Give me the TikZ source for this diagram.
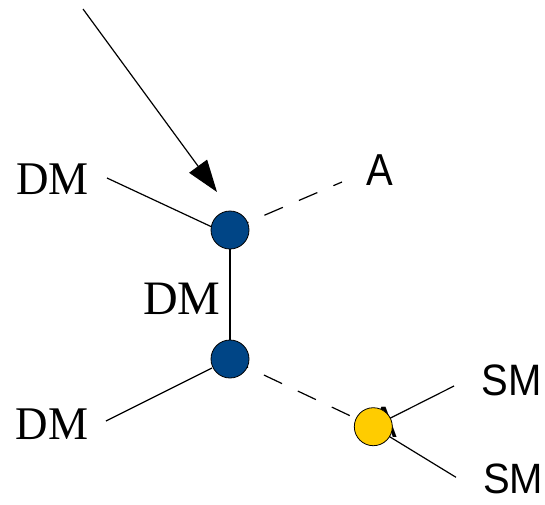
\documentclass[tikz,border=0pt]{standalone}
\usepackage{fontspec}
\setmainfont{Liberation Serif}
\newfontfamily\sansfnt{Liberation Sans}
\usetikzlibrary{arrows.meta}
\definecolor{nodeblue}{HTML}{004586}
\definecolor{nodeyellow}{HTML}{FFCC00}
\tikzset{
  conn/.style={line width=1.2pt, black},
  dconn/.style={conn, dash pattern=on 20pt off 17.5pt},
  atom/.style={circle, draw=black, line width=0.8pt, minimum size=38pt, inner sep=0pt},
  dmlabel/.style={inner sep=0pt, font=\fontsize{45}{50}\selectfont},
  smlabel/.style={inner sep=0pt, font=\sansfnt\fontsize{40}{44}\selectfont},
}
\begin{document}
\begin{tikzpicture}[x=1pt,y=-1pt]
\useasboundingbox (0,0) rectangle (545,504);
% labels
\node[dmlabel] (dm1) at (52.5,179.5) {\scalebox{1}[1.04]{DM}};
\node[dmlabel, font=\fontsize{48}{52}\selectfont] (dm2) at (181.7,299) {DM};
\node[dmlabel] (dm3) at (52.2,423.8) {\scalebox{1}[1.04]{DM}};
\node[smlabel] (a1) at (380,170.3) {\scalebox{1}[1.12]{A}};
\node[smlabel] (sm1) at (511.7,380.5) {\scalebox{1}[1.1]{SM}};
\node[smlabel] (sm2) at (513.3,479) {\scalebox{1}[1.06]{SM}};
\node[smlabel] (a2) at (384,422) {\scalebox{1}[1.1]{A}};
% coordinates
\coordinate (c1) at (230,230);
\coordinate (c2) at (230,359);
\coordinate (c3) at (373.3,426.7);
\coordinate (arrs) at (83,9);
\coordinate (arrt) at (217,192);
\coordinate (l1s) at (107,178);
\coordinate (l1e) at (212,227);
\coordinate (l3s) at (106,421);
\coordinate (l3e) at (212,368);
\coordinate (d1e) at (342,182);
\coordinate (s1e) at (454,386);
\coordinate (s2e) at (456,477.3);
% connectors
\draw[conn, -{Triangle[length=32pt,width=22pt]}] (arrs) -- (arrt);
\draw[conn] (l1s) -- (l1e);
\draw[conn] (l3s) -- (l3e);
\draw[conn] (c1) -- (c2);
\draw[dconn] (c1) -- (d1e);
\draw[dconn] (c2) -- (c3);
\draw[conn] (c3) -- (s1e);
\draw[conn] (c3) -- (s2e);
% atoms
\node[atom, fill=nodeblue] (n1) at (c1) {};
\node[atom, fill=nodeblue] (n2) at (c2) {};
\node[atom, fill=nodeyellow] (n3) at (c3) {};
\end{tikzpicture}
\end{document}
